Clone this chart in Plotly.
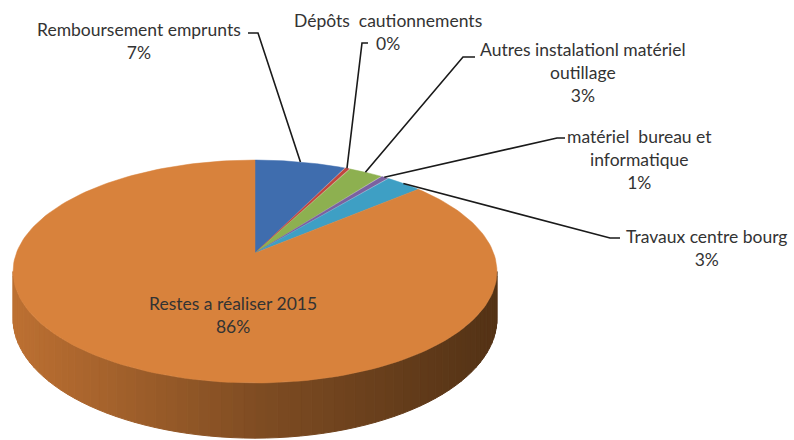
import numpy as np
import plotly.graph_objects as go

# ---- data ----
categories = ["Remboursement emprunts", "Dépôts  cautionnements",
              "Autres instalationl matériel<br>outillage",
              "matériel  bureau et<br>informatique",
              "Travaux centre bourg", "Restes a réaliser 2015"]
values = [7.1, 0.4, 2.7, 0.6, 2.9, 86.3]
colors = ["#3F6DAE", "#C0463F", "#8DB050", "#7A62A0", "#3E9FC4", "#D8823C"]

# ---- geometry (projected tilted disc) ----
CX, CY = 255, 253          # apex (disc centre) in px
A, B, K = 238.6, 108.4, 0.166
DEPTH = 46
FONT = dict(family="Lato", size=17.5, color="#333333")

def proj(theta, drop=0.0):
    u, v = np.sin(theta), np.cos(theta)
    s = 1.0 / (1.0 + K * v)
    return CX + A * u * s, CY - B * v * s + drop * s

total = sum(values)
fracs = [v / total for v in values]
cum = np.concatenate([[0], np.cumsum(fracs)])

fig = go.Figure()

# side (front wall) with horizontal shading gradient
th_r = np.arccos(-K)
th_l = 2 * np.pi - np.arccos(-K)
N = 70
ths = np.linspace(th_r, th_l, N + 1)
c_left = np.array([188, 112, 50])
c_mid = np.array([128, 77, 35])
c_right = np.array([84, 51, 22])
for i in range(N):
    t0, t1 = ths[i], ths[i + 1]
    x0, y0 = proj(t0)
    x1, y1 = proj(t1)
    x0b, y0b = proj(t0, DEPTH)
    x1b, y1b = proj(t1, DEPTH)
    xm = 0.5 * (x0 + x1)
    f = (xm - (CX - A)) / (2 * A)
    f = min(max(f, 0), 1)
    if f < 0.5:
        c = c_left + (c_mid - c_left) * (f / 0.5)
    else:
        c = c_mid + (c_right - c_mid) * ((f - 0.5) / 0.5)
    col = "rgb(%d,%d,%d)" % tuple(c.astype(int))
    fig.add_trace(go.Scatter(x=[x0, x1, x1b, x0b, x0], y=[y0, y1, y1b, y0b, y0],
                             fill="toself", fillcolor=col, mode="lines",
                             line=dict(color=col, width=1), hoverinfo="skip",
                             showlegend=False))

# top face slices
for i, (lab, col) in enumerate(zip(categories, colors)):
    t = np.linspace(cum[i] * 2 * np.pi, cum[i + 1] * 2 * np.pi, 200)
    xs, ys = proj(t)
    xs = np.concatenate([[CX], xs, [CX]])
    ys = np.concatenate([[CY], ys, [CY]])
    fig.add_trace(go.Scatter(x=xs, y=ys, fill="toself", fillcolor=col, mode="lines",
                             line=dict(color=col, width=0.5), hoverinfo="skip",
                             showlegend=False))

# labels and leader lines
label_pos = [(139, 41), (388, 32), (583, 72), (639, 159), (706, 248)]
elbows = [[(258, 33), (248, 33)], [(362, 43), (368, 43)], [(463, 57), (475, 57)],
          [(557, 138), (565, 138)], [(610, 238), (620, 238)]]
annotations = []
for i in range(5):
    mid = (cum[i] + cum[i + 1]) * np.pi
    sx, sy = proj(mid)
    pts = [(sx, sy)] + elbows[i]
    fig.add_trace(go.Scatter(x=[p[0] for p in pts], y=[p[1] for p in pts], mode="lines",
                             line=dict(color="#1a1a1a", width=1.6), hoverinfo="skip",
                             showlegend=False))
    pct = "%d%%" % round(fracs[i] * 100)
    annotations.append(dict(x=label_pos[i][0], y=label_pos[i][1], xref="x", yref="y",
                            text=categories[i] + "<br>" + pct, showarrow=False,
                            align="center", xanchor="center", yanchor="middle",
                            font=FONT))
annotations.append(dict(x=233, y=315, xref="x", yref="y",
                        text=categories[5] + "<br>" + "%d%%" % round(fracs[5] * 100),
                        showarrow=False, align="center", xanchor="center",
                        yanchor="middle", font=FONT))

fig.update_layout(
    width=794, height=440, margin=dict(l=0, r=0, t=0, b=0),
    paper_bgcolor="white", plot_bgcolor="white",
    xaxis=dict(range=[0, 794], visible=False, fixedrange=True),
    yaxis=dict(range=[440, 0], visible=False, fixedrange=True),
    annotations=annotations,
)
fig.write_html("out.html")
